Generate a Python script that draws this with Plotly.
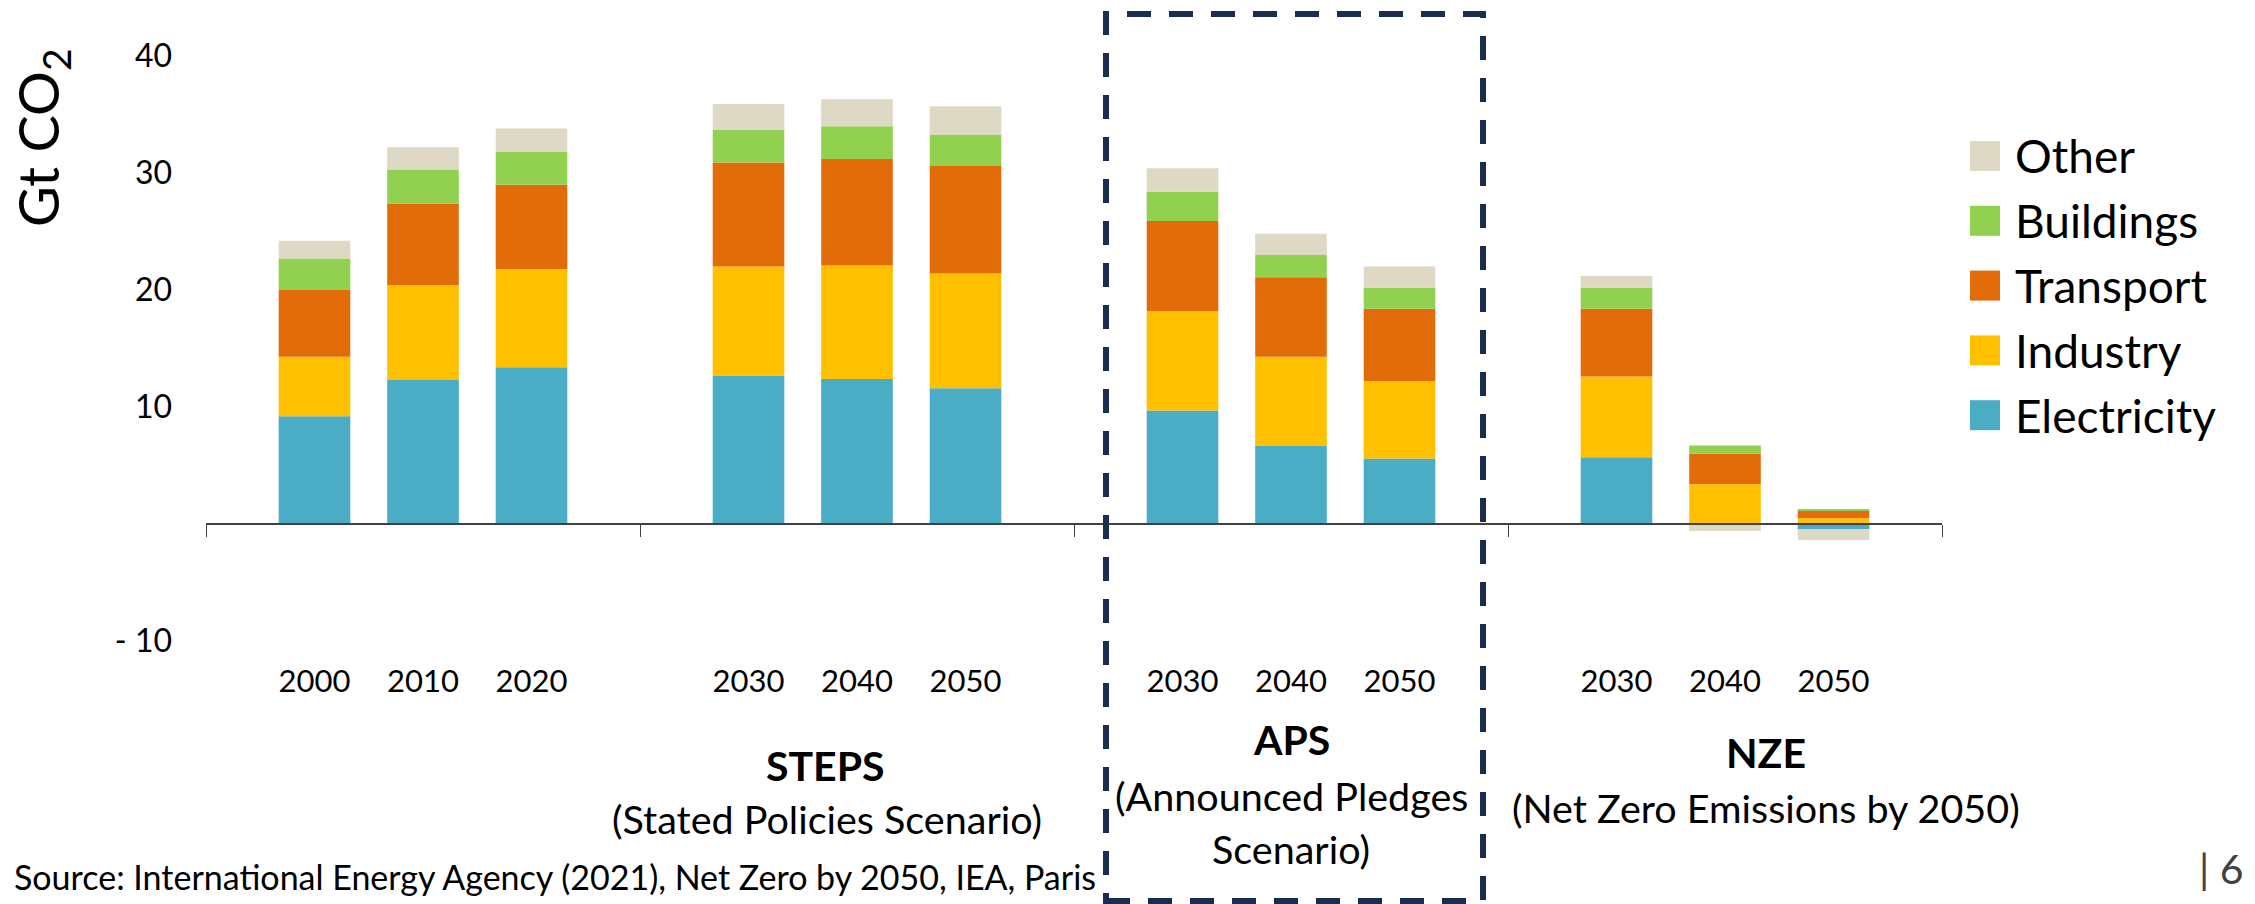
import plotly.graph_objects as go

# Scenario groups and the years shown under each group
scenarios = ["History", "STEPS", "APS", "NZE"]
years = ["2000", "2010", "2020",
         "2030", "2040", "2050",
         "2030", "2040", "2050",
         "2030", "2040", "2050"]
group_of_bar = [0, 0, 0, 1, 1, 1, 2, 2, 2, 3, 3, 3]
slot_in_group = [0, 1, 2, 0, 1, 2, 0, 1, 2, 0, 1, 2]

# Emissions by sector, Gt CO2
electricity = [9.2, 12.3, 13.4, 12.7, 12.4, 11.6, 9.7, 6.7, 5.6, 5.7, 0.0, -0.43]
industry = [5.1, 8.1, 8.4, 9.3, 9.7, 9.8, 8.5, 7.6, 6.6, 6.9, 3.4, 0.5]
transport = [5.7, 7.0, 7.2, 8.9, 9.1, 9.2, 7.7, 6.8, 6.2, 5.8, 2.6, 0.62]
buildings = [2.7, 2.9, 2.8, 2.8, 2.8, 2.7, 2.5, 1.9, 1.8, 1.8, 0.7, 0.15]
other = [1.5, 1.9, 2.0, 2.2, 2.3, 2.4, 2.0, 1.8, 1.8, 1.0, -0.6, -0.94]

sector_names = ["Electricity", "Industry", "Transport", "Buildings", "Other"]
sector_values = [electricity, industry, transport, buildings, other]
sector_colors = ["#4BACC6", "#FFC000", "#E36C0A", "#92D050", "#DDD9C4"]

y_tick_values = [-10, 10, 20, 30, 40]
y_tick_text = ["- 10", "10", "20", "30", "40"]

group_titles = ["STEPS", "APS", "NZE"]
group_subtitles = [["(Stated Policies Scenario)"],
                   ["(Announced Pledges", "Scenario)"],
                   ["(Net Zero Emissions by 2050)"]]

FONT = "Lato"
W, H = 2255, 904
L, R, T, B = 206, 313, 56, 263
PW, PH = W - L - R, H - T - B
Y_RANGE = [-10, 40]
SLOTS_PER_GROUP = 4
X_RANGE = [-1, SLOTS_PER_GROUP * len(scenarios) - 1]


def px_x(x):
    return (x - L) / PW


def px_y(y):
    return (H - B - y) / PH


# Bars sit on a numeric axis with an empty slot between scenario groups
x_pos = [g * SLOTS_PER_GROUP + s for g, s in zip(group_of_bar, slot_in_group)]

fig = go.Figure()
for name, vals, col in zip(sector_names, sector_values, sector_colors):
    fig.add_trace(go.Bar(
        x=x_pos, y=vals, name=name, width=0.66,
        marker=dict(color=col, line=dict(width=0)),
        showlegend=False,
    ))

# Category axis line at zero with boundary ticks between groups
fig.add_trace(go.Scatter(x=[], y=[], xaxis="x2", showlegend=False, hoverinfo="skip"))
boundaries = list(range(X_RANGE[0], X_RANGE[1] + 1, SLOTS_PER_GROUP))
zero_frac = (0 - Y_RANGE[0]) / (Y_RANGE[1] - Y_RANGE[0])

fig.update_layout(
    width=W, height=H,
    margin=dict(l=L, r=R, t=T, b=B, pad=0),
    paper_bgcolor="white", plot_bgcolor="white",
    barmode="relative",
    showlegend=False,
    font=dict(family=FONT, color="#000000"),
    xaxis=dict(
        range=X_RANGE, tickmode="array", tickvals=x_pos, ticktext=years,
        ticks="", showline=False, showgrid=False, zeroline=False,
        tickfont=dict(size=31, family=FONT, color="#000000"),
        ticklabelstandoff=19,
    ),
    xaxis2=dict(
        range=X_RANGE, overlaying="x", anchor="free", position=zero_frac,
        tickmode="array", tickvals=boundaries, showticklabels=False,
        ticks="outside", ticklen=12, tickwidth=1, tickcolor="#404040",
        showline=True, linecolor="#404040", linewidth=1.5,
        showgrid=False, zeroline=False,
    ),
    yaxis=dict(
        range=Y_RANGE, tickmode="array", tickvals=y_tick_values, ticktext=y_tick_text,
        ticks="", showline=False, showgrid=False, zeroline=False,
        tickfont=dict(size=32, family=FONT, color="#000000"),
        ticklabelstandoff=33,
    ),
)

annotations = []
shapes = []

# Axis title
annotations.append(dict(
    text="Gt CO<sub>2</sub>", textangle=-90, showarrow=False,
    xref="paper", yref="paper", x=px_x(42), y=px_y(138),
    xanchor="center", yanchor="middle",
    font=dict(size=56, family=FONT, color="#000000"),
))

# Legend drawn as squares and labels, top item first
legend_top, legend_step = 156, 64.8
for i, (name, col) in enumerate(zip(sector_names[::-1], sector_colors[::-1])):
    cy = legend_top + i * legend_step
    shapes.append(dict(
        type="rect", xref="paper", yref="paper",
        x0=px_x(1970), x1=px_x(2000), y0=px_y(cy - 15), y1=px_y(cy + 15),
        fillcolor=col, line=dict(width=0),
    ))
    annotations.append(dict(
        text=name, showarrow=False, xref="paper", yref="paper",
        x=px_x(2013), y=px_y(cy), xanchor="left", yanchor="middle",
        font=dict(size=46, family=FONT, color="#000000"),
    ))

# Scenario captions under the year labels
title_centers = [(825, 765), (1291, 739), (1766, 752)]
sub_centers = [[(827, 818)], [(1291, 795), (1291, 848)], [(1766, 808)]]
for title, subs, (tx, ty), centers in zip(group_titles, group_subtitles,
                                          title_centers, sub_centers):
    annotations.append(dict(
        text="<b>" + title + "</b>", showarrow=False, xref="paper", yref="paper",
        x=px_x(tx), y=px_y(ty), xanchor="center", yanchor="middle",
        font=dict(size=41, family=FONT, color="#000000"),
    ))
    for line, (sx, sy) in zip(subs, centers):
        annotations.append(dict(
            text=line, showarrow=False, xref="paper", yref="paper",
            x=px_x(sx), y=px_y(sy), xanchor="center", yanchor="middle",
            font=dict(size=39.5, family=FONT, color="#000000"),
        ))

# Source line and page number
annotations.append(dict(
    text="Source: International Energy Agency (2021), Net Zero by 2050, IEA, Paris",
    showarrow=False, xref="paper", yref="paper",
    x=px_x(12), y=px_y(876), xanchor="left", yanchor="middle",
    font=dict(size=34, family=FONT, color="#000000"),
))
annotations.append(dict(
    text="| 6", showarrow=False, xref="paper", yref="paper",
    x=px_x(2246), y=px_y(868), xanchor="right", yanchor="middle",
    font=dict(size=41, family=FONT, color="#404040"),
))

# Dashed frame around the APS group
shapes.append(dict(
    type="rect", xref="paper", yref="paper",
    x0=px_x(1106), x1=px_x(1483), y0=px_y(901), y1=px_y(14),
    line=dict(color="#1A2C50", width=6, dash="24px,18px"),
    fillcolor="rgba(0,0,0,0)", layer="above",
))

fig.update_layout(annotations=annotations, shapes=shapes)
fig.write_html("out.html")
